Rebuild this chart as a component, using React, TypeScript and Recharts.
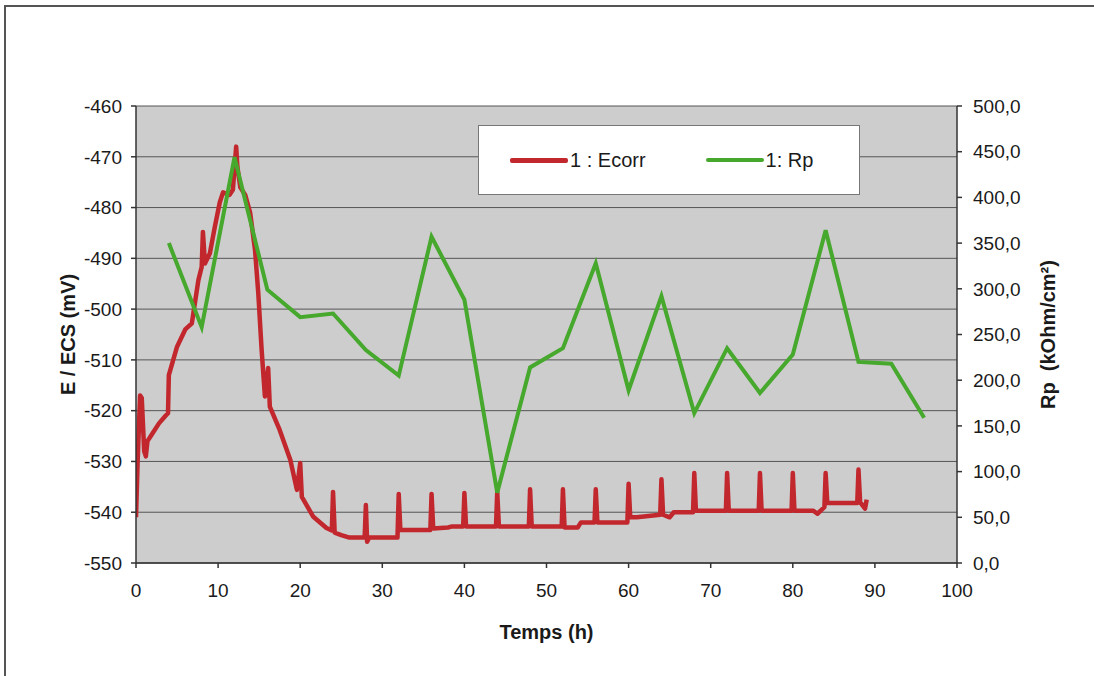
import React from 'react';
import { ComposedChart, Line, XAxis, YAxis, CartesianGrid, Legend } from 'recharts';

// Ecorr (mV vs ECS), hours / millivolts
const ecorrHours = [
  0, 0.2, 0.5, 0.7, 1.0, 1.2, 1.4, 2.0, 2.8, 3.6, 3.9, 4.0, 5.0, 6.0, 6.8, 7.6, 8.0, 8.15, 8.4, 9.0,
  9.6, 10.2, 10.6, 11.4, 11.8, 12.2, 12.35, 12.7, 13.3, 13.9, 14.5, 14.9, 15.3, 15.7, 16.1, 16.3, 17.5,
  18.8, 19.6, 20.0, 20.2, 21.6, 23.2, 23.85, 24.0, 24.2, 25.0, 26.0, 27.85, 28.0, 28.15, 28.4, 31.85,
  32.0, 32.2, 35.85, 36.0, 36.2, 38.0, 38.5, 39.85, 40.0, 40.2, 43.85, 44.0, 44.2, 47.85, 48.0, 48.2,
  51.85, 52.0, 52.2, 53.8, 54.2, 55.85, 56.0, 56.2, 59.85, 60.0, 60.2, 61.0, 63.85, 64.0, 64.2, 65.0,
  65.5, 67.85, 68.0, 68.2, 71.85, 72.0, 72.2, 75.85, 76.0, 76.2, 79.85, 80.0, 80.2, 82.5, 83.0, 83.85,
  84.0, 84.2, 87.85, 88.0, 88.2, 88.8, 89.0,
];
const ecorrMv = [
  -541, -530, -517, -517.5, -528, -529, -526, -524.5, -522.5, -521, -520.5, -513, -507.4, -504, -502.8, -494.3, -491.7, -484.8, -491, -489,
  -483.8, -479, -477, -477.5, -476.5, -468, -472, -476, -477.5, -481, -488.4, -497, -508, -517.2, -511.6, -519.2, -523.8,
  -529.7, -535.6, -530.3, -537, -540.9, -543.1, -543.6, -536, -544, -544.5, -545, -545, -538.6, -545.8, -545, -545,
  -536.4, -543.5, -543.5, -536.4, -543.2, -543, -542.8, -542.8, -536.2, -542.8, -542.8, -536, -542.8, -542.8, -535.5, -542.8,
  -542.8, -535.5, -543, -543, -542, -542, -535.5, -542, -542, -534.4, -541, -541, -540.5, -533.5, -540.5, -541,
  -540, -540, -532.3, -539.7, -539.7, -532.3, -539.7, -539.7, -532.3, -539.7, -539.7, -532.3, -539.7, -539.7, -540.3, -539,
  -532.3, -538.2, -538.2, -531.6, -538, -539.3, -537.5,
];

// Rp (kOhm/cm2), one reading every 4 hours
const rpHours = [4, 8, 12, 16, 20, 24, 28, 32, 36, 40, 44, 48, 52, 56, 60, 64, 68, 72, 76, 80, 84, 88, 92, 96];
const rpValues = [350, 258, 444, 299, 269, 273, 233, 205, 357, 288, 77, 214, 235, 328, 189, 292, 164, 235, 186, 228, 364, 220, 218, 159];

const xTicks = [0, 10, 20, 30, 40, 50, 60, 70, 80, 90, 100];
const eTicks = [-550, -540, -530, -520, -510, -500, -490, -480, -470, -460];
const rpTicks = [0, 50, 100, 150, 200, 250, 300, 350, 400, 450, 500];

const ecorrData = ecorrHours.map((t, i) => ({ t, e: ecorrMv[i] }));
const rpData = rpHours.map((t, i) => ({ t, rp: rpValues[i] }));

const RED = '#c1272d';
const GREEN = '#46a82c';
const FONT = '"Liberation Sans", Arial, sans-serif';

const tickStyle = { fill: '#1a1a1a', fontSize: 19, fontFamily: FONT };
const titleStyle = { fontFamily: FONT, fontSize: 20, fontWeight: 700, fill: '#1a1a1a' };

const LegendBox = () => (
  <div
    style={{
      width: '100%',
      height: '100%',
      boxSizing: 'border-box',
      background: '#fff',
      border: '1px solid #777',
      display: 'flex',
      alignItems: 'center',
      fontFamily: FONT,
      fontSize: 20,
      color: '#1a1a1a',
    }}
  >
    <div style={{ display: 'flex', alignItems: 'center', marginLeft: 31 }}>
      <span style={{ width: 58, height: 5, background: RED, borderRadius: 2, display: 'inline-block' }} />
      <span style={{ marginLeft: 2 }}>1 : Ecorr</span>
    </div>
    <div style={{ display: 'flex', alignItems: 'center', marginLeft: 60 }}>
      <span style={{ width: 58, height: 4, background: GREEN, borderRadius: 2, display: 'inline-block' }} />
      <span style={{ marginLeft: 2 }}>1: Rp</span>
    </div>
  </div>
);

const LeftTitle = (props: any) => {
  const { viewBox } = props;
  const x = 68;
  const y = viewBox.y + viewBox.height / 2;
  return (
    <text x={x} y={y} transform={`rotate(-90 ${x} ${y})`} textAnchor="middle" dominantBaseline="central" style={titleStyle}>
      E / ECS (mV)
    </text>
  );
};

const RightTitle = (props: any) => {
  const { viewBox } = props;
  const x = 1048;
  const y = viewBox.y + viewBox.height / 2;
  return (
    <text x={x} y={y} transform={`rotate(-90 ${x} ${y})`} textAnchor="middle" dominantBaseline="central"
      style={{ ...titleStyle, whiteSpace: 'pre' }}>
      Rp  (kOhm/cm²)
    </text>
  );
};

const BottomTitle = (props: any) => {
  const { viewBox } = props;
  const x = viewBox.x + viewBox.width / 2;
  return (
    <text x={x} y={632} textAnchor="middle" dominantBaseline="central" style={titleStyle}>
      Temps (h)
    </text>
  );
};

const App: React.FC = () => {
  return (
    <div style={{ position: 'absolute', left: 0, top: 0, width: 1094, height: 676, background: '#fff' }}>
      {/* scanned page frame */}
      <div style={{ position: 'absolute', left: 4, top: 5, right: -2, bottom: -2, borderLeft: '2px solid #555', borderTop: '2px solid #555' }} />
      <div style={{ position: 'absolute', left: 0, top: 0 }}>
        <ComposedChart width={1094} height={676} margin={{ top: 106, right: 0, bottom: 0, left: 0 }}>
          <CartesianGrid yAxisId="e" vertical={false} fill="#cdcdcd" stroke="#555" strokeWidth={1} />
          <XAxis
            dataKey="t"
            type="number"
            domain={[0, 100]}
            ticks={xTicks}
            allowDataOverflow
            height={113}
            tickSize={5}
            tickMargin={16}
            tick={tickStyle}
            stroke="#333"
            strokeWidth={1.5}
            label={<BottomTitle />}
          />
          <YAxis
            yAxisId="e"
            orientation="left"
            type="number"
            domain={[-550, -460]}
            ticks={eTicks}
            width={136}
            tickSize={5}
            tickMargin={9}
            tick={tickStyle}
            stroke="#333"
            strokeWidth={1.5}
            label={<LeftTitle />}
          />
          <YAxis
            yAxisId="rp"
            orientation="right"
            type="number"
            domain={[0, 500]}
            ticks={rpTicks}
            width={137}
            tickSize={5}
            tickMargin={11}
            tick={{ ...tickStyle, textAnchor: 'start' }}
            tickFormatter={(v: number) => v.toFixed(1).replace('.', ',')}
            stroke="#333"
            strokeWidth={1.5}
            label={<RightTitle />}
          />
          <Legend
            layout="horizontal"
            verticalAlign="middle"
            align="center"
            content={<LegendBox />}
            wrapperStyle={{ left: 478, top: 125, width: 382, height: 70 }}
          />
          <Line
            yAxisId="e"
            data={ecorrData}
            dataKey="e"
            name="1 : Ecorr"
            type="linear"
            stroke={RED}
            strokeWidth={4.5}
            strokeLinejoin="round"
            dot={false}
            activeDot={false}
            isAnimationActive={false}
          />
          <Line
            yAxisId="rp"
            data={rpData}
            dataKey="rp"
            name="1: Rp"
            type="linear"
            stroke={GREEN}
            strokeWidth={4}
            dot={false}
            activeDot={false}
            isAnimationActive={false}
          />
        </ComposedChart>
      </div>
    </div>
  );
};

export default App;
